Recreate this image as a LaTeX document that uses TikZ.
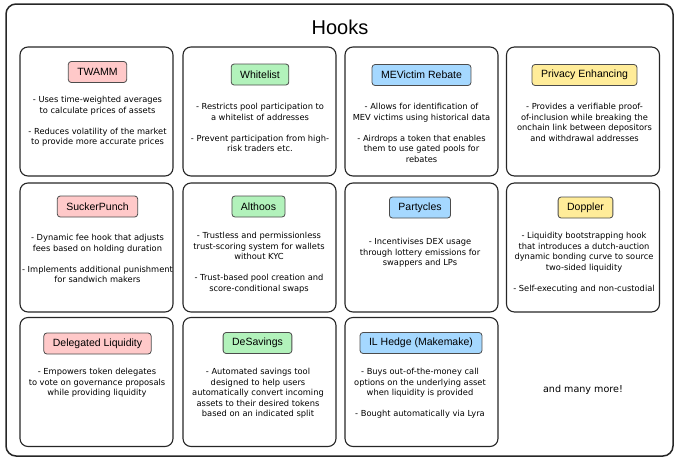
\documentclass[tikz,border=0pt]{standalone}
\usepackage{fontspec}
\setmainfont{Liberation Sans}
\newfontfamily\notefont{DejaVu Sans}
\usetikzlibrary{positioning}

\definecolor{tagred}{HTML}{FFC9C9}
\definecolor{taggreen}{HTML}{B2F2BB}
\definecolor{tagblue}{HTML}{A5D8FF}
\definecolor{tagyellow}{HTML}{FFEC99}

\tikzset{
  card/.style={draw=black!85,line width=1.1pt,rounded corners=8pt,minimum width=153pt,minimum height=129pt},
  tag/.style={draw=black!70,line width=0.8pt,rounded corners=3pt,minimum height=21pt,inner xsep=9pt,font=\fontsize{10.5}{12}\selectfont},
  desc/.style={anchor=north,align=center,inner sep=0pt,font=\notefont\fontsize{8.3}{10.6}\selectfont}
}

\begin{document}
\begin{tikzpicture}[x=1pt,y=-1pt]
  \useasboundingbox (0,0) rectangle (680,461);
  \draw[line width=1.5pt,black!85,rounded corners=10pt] (6,4) rectangle (673,456);
  \node (title) at (340,27) {\fontsize{20}{24}\selectfont Hooks};
  % row 1
  \node[card] (twamm) at (96.5,111.5) {};
  \node[tag,fill=tagred] (twammtag) at (97.5,72) {TWAMM};
  \node[desc] (twammtxt) at (97.5,96) {- Uses time-weighted averages\\ to calculate prices of assets\\[10.6pt] - Reduces volatility of the market\\ to provide more accurate prices};
  \node[card] (white) at (259.5,111.5) {};
  \node[tag,fill=taggreen] (whitetag) at (260,74.5) {Whitelist};
  \node[desc] (whitetxt) at (260,103) {- Restricts pool participation to\\ a whitelist of addresses\\[10.6pt] - Prevent participation from high-\\ risk traders etc.};
  \node[card] (mev) at (421.5,111.5) {};
  \node[tag,fill=tagblue] (mevtag) at (421.5,75) {MEVictim Rebate};
  \node[desc] (mevtxt) at (421.5,103) {- Allows for identification of\\ MEV victims using historical data\\[10.6pt] - Airdrops a token that enables\\ them to use gated pools for\\ rebates};
  \node[card] (privacy) at (583,111.5) {};
  \node[tag,fill=tagyellow] (privacytag) at (584.5,75) {Privacy Enhancing};
  \node[desc] (privacytxt) at (584.5,103) {- Provides a verifiable proof-\\ of-inclusion while breaking the\\ onchain link between depositors\\ and withdrawal addresses};
  % row 2
  \node[card] (sucker) at (96.5,247.5) {};
  \node[tag,fill=tagred] (suckertag) at (97.5,206.5) {SuckerPunch};
  \node[desc] (suckertxt) at (97.5,234) {- Dynamic fee hook that adjusts\\ fees based on holding duration\\[10.6pt] - Implements additional punishment\\ for sandwich makers};
  \node[card] (althoos) at (259.5,247.5) {};
  \node[tag,fill=taggreen] (althoostag) at (258.5,206.5) {Althoos};
  \node[desc] (althoostxt) at (259,232) {- Trustless and permissionless\\ trust-scoring system for wallets\\ without KYC\\[10.6pt] - Trust-based pool creation and\\ score-conditional swaps};
  \node[card] (party) at (421.5,247.5) {};
  \node[tag,fill=tagblue] (partytag) at (420,207.5) {Partycles};
  \node[desc] (partytxt) at (420,238) {- Incentivises DEX usage\\ through lottery emissions for\\ swappers and LPs};
  \node[card] (doppler) at (583,247.5) {};
  \node[tag,fill=tagyellow] (dopplertag) at (585.5,207.5) {Doppler};
  \node[desc] (dopplertxt) at (584,232) {- Liquidity bootstrapping hook\\ that introduces a dutch-auction\\ dynamic bonding curve to source\\ two-sided liquidity\\[10.6pt] - Self-executing and non-custodial};
  % row 3
  \node[card] (deleg) at (96.5,382) {};
  \node[tag,fill=tagred] (delegtag) at (97.5,343.5) {Delegated Liquidity};
  \node[desc] (delegtxt) at (97,368) {- Empowers token delegates\\ to vote on governance proposals\\ while providing liquidity};
  \node[card] (desav) at (259.5,382) {};
  \node[tag,fill=taggreen] (desavtag) at (257.5,343) {DeSavings};
  \node[desc] (desavtxt) at (258,368) {- Automated savings tool\\ designed to help users\\ automatically convert incoming\\ assets to their desired tokens\\ based on an indicated split};
  \node[card] (ilhedge) at (421.5,382) {};
  \node[tag,fill=tagblue] (ilhedgetag) at (421,343) {IL Hedge (Makemake)};
  \node[desc] (ilhedgetxt) at (420,368) {- Buys out-of-the-money call\\ options on the underlying asset\\ when liquidity is provided\\[10.6pt] - Bought automatically via Lyra};
  \node[font=\notefont\fontsize{9.6}{11}\selectfont] (more) at (583,390) {and many more!};
\end{tikzpicture}
\end{document}
